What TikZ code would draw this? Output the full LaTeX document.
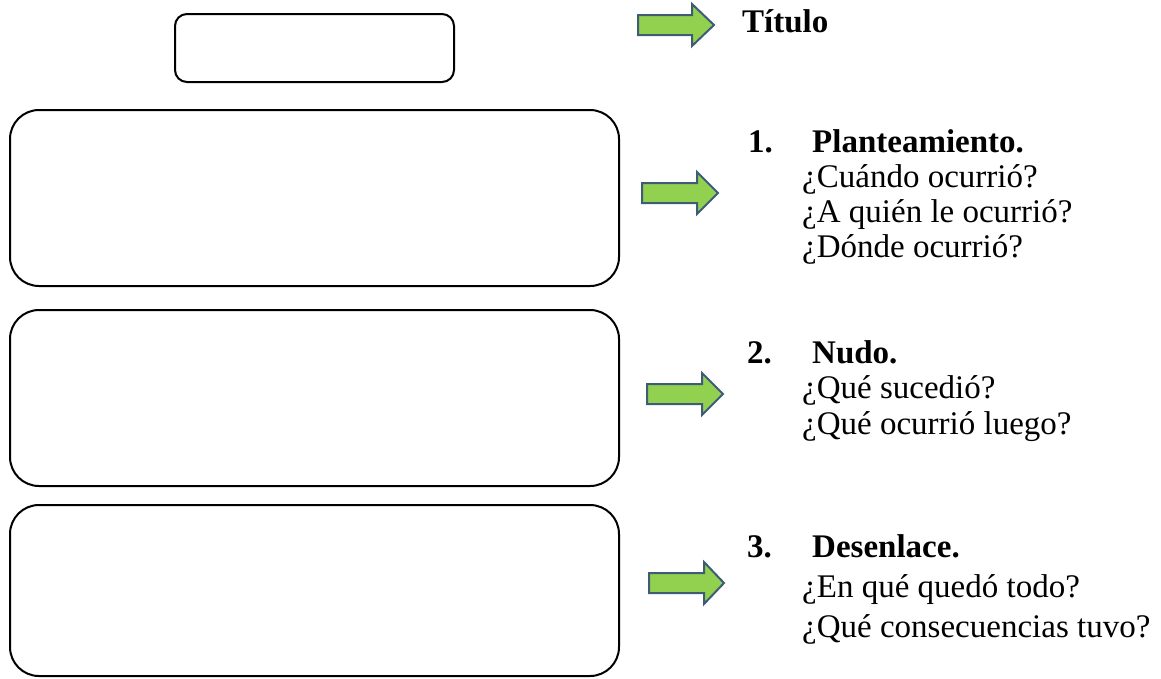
\documentclass[tikz,border=0pt]{standalone}
\usepackage{fontspec}
\setmainfont{Liberation Serif}
\definecolor{arrowfill}{RGB}{146,208,80}
\definecolor{arrowline}{RGB}{62,92,118}
\begin{document}
\begin{tikzpicture}[x=1pt,y=-1pt,
  panel/.style={draw=black, line width=2pt, rounded corners=29pt},
  titlepanel/.style={draw=black, line width=2pt, rounded corners=12pt},
  greenarrow/.style={fill=arrowfill, draw=arrowline, line width=2pt, line join=miter},
  lbl/.style={anchor=base west, inner sep=0pt, font=\fontsize{33}{40}\selectfont},
  hd/.style={anchor=base west, inner sep=0pt, font=\fontsize{33}{40}\selectfont\bfseries}]
\useasboundingbox (0,0) rectangle (1161,678);
% boxes
\draw[titlepanel] (175,14) rectangle (454,82);
\draw[panel] (10,110) rectangle (619,286);
\draw[panel] (10,310) rectangle (619,486);
\draw[panel] (10,505) rectangle (619,676);
% arrows
\foreach \xa/\xt/\xh/\yc in {638/714/692/25, 642/718/697/193, 647/723/702/394, 649/724/704/583}{
  \draw[greenarrow] (\xa,\yc-10) -- (\xh,\yc-10) -- (\xh,\yc-21) -- (\xt,\yc)
    -- (\xh,\yc+21) -- (\xh,\yc+10) -- (\xa,\yc+10) -- cycle;
}
% texts
\node[hd] (titulo) at (742,32) {Título};
\node[hd] (n1) at (748,152) {1.};
\node[hd] (h1) at (812,152) {Planteamiento.};
\node[lbl] (q11) at (802,187) {¿Cuándo ocurrió?};
\node[lbl] (q12) at (802,222) {¿A quién le ocurrió?};
\node[lbl] (q13) at (802,257) {¿Dónde ocurrió?};
\node[hd] (n2) at (747,363) {2.};
\node[hd] (h2) at (812,363) {Nudo.};
\node[lbl] (q21) at (802,398) {¿Qué sucedió?};
\node[lbl] (q22) at (802,434) {¿Qué ocurrió luego?};
\node[hd] (n3) at (747,557) {3.};
\node[hd] (h3) at (812,557) {Desenlace.};
\node[lbl] (q31) at (802,597) {¿En qué quedó todo?};
\node[lbl] (q32) at (802,637) {¿Qué consecuencias tuvo?};
\end{tikzpicture}
\end{document}
